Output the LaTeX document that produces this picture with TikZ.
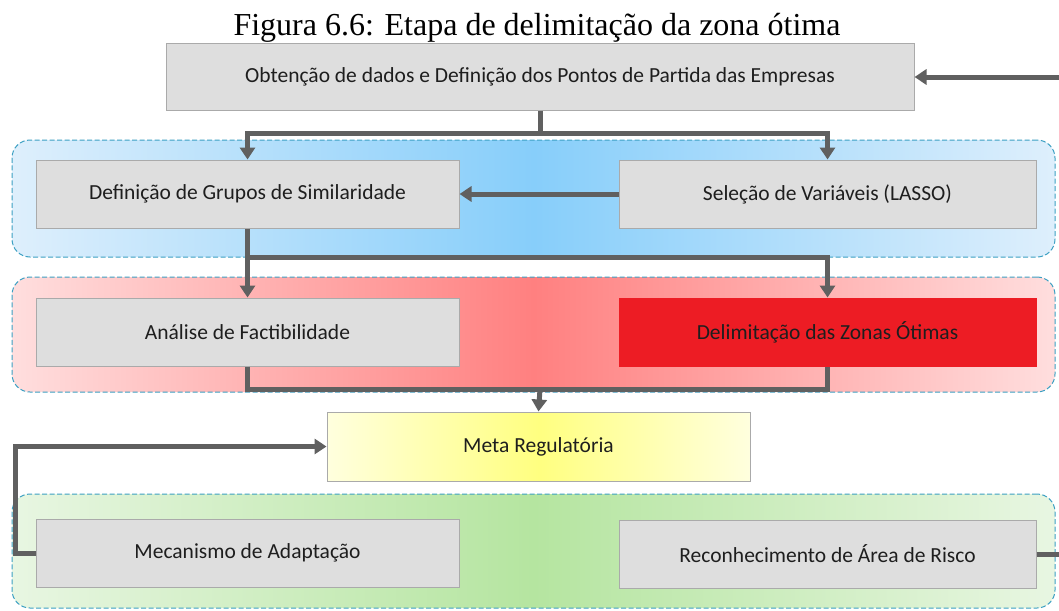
\documentclass[tikz,border=0pt]{standalone}
\usepackage{fontspec}
\setmainfont{Carlito}
\newfontfamily\titlefont{Liberation Serif}
\usetikzlibrary{arrows.meta,calc}
\definecolor{linegray}{RGB}{96,96,96}
\definecolor{boxgray}{RGB}{222,222,222}
\definecolor{boxborder}{RGB}{170,170,170}
\definecolor{txt}{RGB}{30,30,30}
\definecolor{dashblue}{RGB}{60,160,195}
\definecolor{blueedge}{RGB}{222,239,252}
\definecolor{bluemid}{RGB}{135,206,250}
\definecolor{rededge}{RGB}{255,222,222}
\definecolor{redmid}{RGB}{255,128,128}
\definecolor{greenedge}{RGB}{232,246,226}
\definecolor{greenmid}{RGB}{181,229,160}
\definecolor{yellowedge}{RGB}{255,255,222}
\definecolor{yellowmid}{RGB}{255,255,128}
\definecolor{delred}{RGB}{237,28,36}
\tikzset{
  stepbox/.style={draw=boxborder, line width=1pt, fill=boxgray, minimum height=68pt, inner sep=0pt, font=\fontsize{21.5}{24}\selectfont, text=txt},
  groupbox/.style={draw=dashblue, line width=1pt, dash pattern=on 5pt off 2.5pt, rounded corners=18pt, minimum width=1043pt, inner sep=0pt},
  conn/.style={draw=linegray, line width=5pt},
  arr/.style={conn, -{Triangle[length=12pt,width=15pt]}},
}
\begin{document}
\begin{tikzpicture}[x=1pt,y=-1pt]
\clip (0,0) rectangle (1059,610);
\fill[white] (0,0) rectangle (1059,610);
% title
\node (title) at (537,28) {\titlefont\fontsize{32}{34}\selectfont Figura 6.6: Etapa de delimitação da zona ótima};
% groups
\node[groupbox, minimum height=117pt, left color=blueedge, right color=blueedge, middle color=bluemid] (gblue) at (533.5,198.5) {};
\node[groupbox, minimum height=115pt, left color=rededge, right color=rededge, middle color=redmid] (gred) at (533.5,334.5) {};
\node[groupbox, minimum height=114pt, left color=greenedge, right color=greenedge, middle color=greenmid] (ggreen) at (533.5,551) {};
% boxes
\node[stepbox, minimum width=748pt, minimum height=66pt] (top) at (540,77) {Obtenção de dados e Definição dos Pontos de Partida das Empresas};
\node[stepbox, minimum width=423pt] (def) at (247.5,194) {Definição de Grupos de Similaridade};
\node[stepbox, minimum width=417pt] (sel) at (827.5,194) {Seleção de Variáveis (LASSO)};
\node[stepbox, minimum width=423pt] (ana) at (247.5,332) {Análise de Factibilidade};
\node[stepbox, minimum width=417pt, fill=delred, draw=delred] (del) at (827.5,332) {Delimitação das Zonas Ótimas};
\node[stepbox, minimum width=423pt, minimum height=69pt, draw=boxborder, left color=yellowedge, right color=yellowedge, middle color=yellowmid] (meta) at (538.5,446.5) {Meta Regulatória};
\node[stepbox, minimum width=423pt] (mec) at (247.5,553) {Mecanismo de Adaptação};
\node[stepbox, minimum width=417pt] (rec) at (827.5,554) {Reconhecimento de Área de Risco};
% junctions
\coordinate (j1) at (540,133);
\coordinate (j2) at (247.5,257);
\coordinate (j3) at (247.5,389);
\coordinate (j3r) at (827.5,389);
\coordinate (j3c) at (540,389);
\coordinate (j4) at (15,553);
\coordinate (j5) at (1075,554);
\coordinate (j6) at (1075,77);
% connectors
\draw[arr] (top.south) -- (j1) -| (def.north);
\draw[arr] (j1) -| (sel.north);
\draw[arr] (sel.west) -- (def.east);
\draw[arr] (def.south) -- (j2) -- (ana.north);
\draw[arr] (j2) -| (del.north);
\draw[conn] (ana.south) -- (j3) -- (j3r) -- (del.south);
\draw[arr] (j3c) -- (meta.north);
\draw[arr] (mec.west) -- (j4) |- (meta.west);
\draw[arr] (rec.east) -- (j5) -- (j6) -- (top.east);
\end{tikzpicture}
\end{document}
